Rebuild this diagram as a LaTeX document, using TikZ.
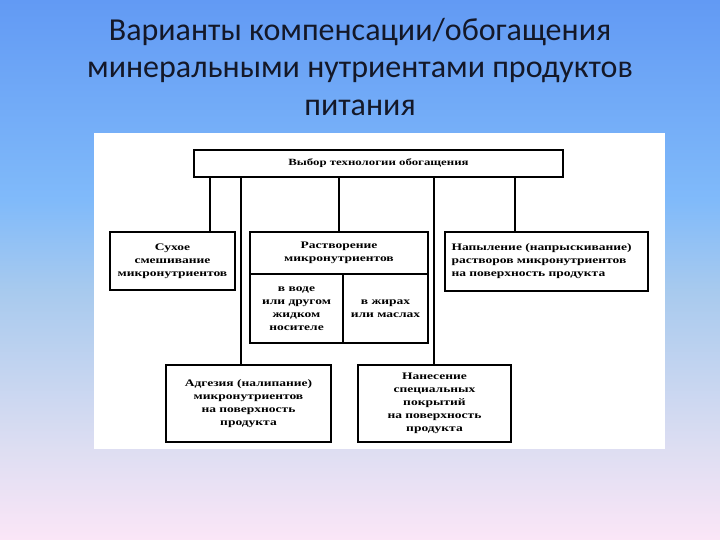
\documentclass[tikz,border=0pt]{standalone}
\usepackage{fontspec}
\setmainfont{Carlito}
\newfontfamily\diagfont[FakeStretch=1.35]{Liberation Serif}
\usetikzlibrary{positioning}

\definecolor{bgtop}{RGB}{98,154,244}
\definecolor{bgupper}{RGB}{128,186,250}
\definecolor{bgmid}{RGB}{168,202,238}
\definecolor{bglow}{RGB}{222,222,242}
\definecolor{bgbot}{RGB}{251,230,247}
\definecolor{titletext}{RGB}{20,24,40}

% vertical slide gradient (TikZ maps the middle 50bp onto the path)
\pgfdeclareverticalshading{slidebg}{100bp}{%
  color(0bp)=(bgbot); color(25bp)=(bgbot); color(33.3bp)=(bglow);
  color(48bp)=(bgmid); color(56.5bp)=(bgupper); color(75bp)=(bgtop);
  color(100bp)=(bgtop)}

\tikzset{
  variant/.style={draw, line width=1.3pt, fill=white, inner sep=3pt,
    font=\diagfont\bfseries\fontsize{10}{13}\selectfont, align=center},
  link/.style={line width=1.3pt}
}

\begin{document}
\begin{tikzpicture}[x=1pt, y=-1pt]
  \useasboundingbox (0,0) rectangle (720,540);

  % slide background
  \shade[shading=slidebg] (0,0) rectangle (720,540);

  % title
  \node[text=titletext, font=\fontsize{32}{37.5}\selectfont, align=center] (title) at (360,67)
    {Варианты компенсации/обогащения\\минеральными нутриентами продуктов\\питания};

  % white panel with the scheme
  \fill[white] (94,133) rectangle (665,449);

  % top box
  \node[variant, minimum width=369pt, minimum height=27pt,
    font=\diagfont\bfseries\fontsize{9.5}{13}\selectfont] (tech) at (378.5,163.5)
    {Выбор технологии обогащения};

  % first row
  \node[variant, minimum width=125pt, minimum height=58pt] (dry) at (172.5,261)
    {Сухое\\смешивание\\микронутриентов};
  \node[variant, minimum width=178pt, minimum height=42pt] (dis) at (339,253)
    {Растворение\\микронутриентов};
  \node[variant, minimum width=93pt, minimum height=69pt] (water) at (296.5,308.5)
    {в воде\\или другом\\жидком\\носителе};
  \node[variant, minimum width=85pt, minimum height=69pt] (fat) at (385.5,308.5)
    {в жирах\\или маслах};
  \node[variant, minimum width=203pt, minimum height=59pt, text width=190pt,
    align=left] (spray) at (546.5,261.5)
    {Напыление (напрыскивание)\\растворов микронутриентов\\на поверхность продукта};

  % second row
  \node[variant, minimum width=165pt, minimum height=77pt] (adh) at (248.5,403.5)
    {Адгезия (налипание)\\микронутриентов\\на поверхность\\продукта};
  \node[variant, minimum width=153pt, minimum height=77pt] (coat) at (434.5,403.5)
    {Нанесение\\специальных\\покрытий\\на поверхность\\продукта};

  % connectors
  \coordinate (xdry) at (210,0);
  \coordinate (xadh) at (241,0);
  \coordinate (xdis) at (339,0);
  \coordinate (xcoat) at (434,0);
  \coordinate (xspray) at (515,0);
  \draw[link] (tech.south -| xdry) -- (dry.north -| xdry);
  \draw[link] (tech.south -| xadh) -- (adh.north -| xadh);
  \draw[link] (tech.south -| xdis) -- (dis.north -| xdis);
  \draw[link] (tech.south -| xcoat) -- (coat.north -| xcoat);
  \draw[link] (tech.south -| xspray) -- (spray.north -| xspray);
\end{tikzpicture}
\end{document}
